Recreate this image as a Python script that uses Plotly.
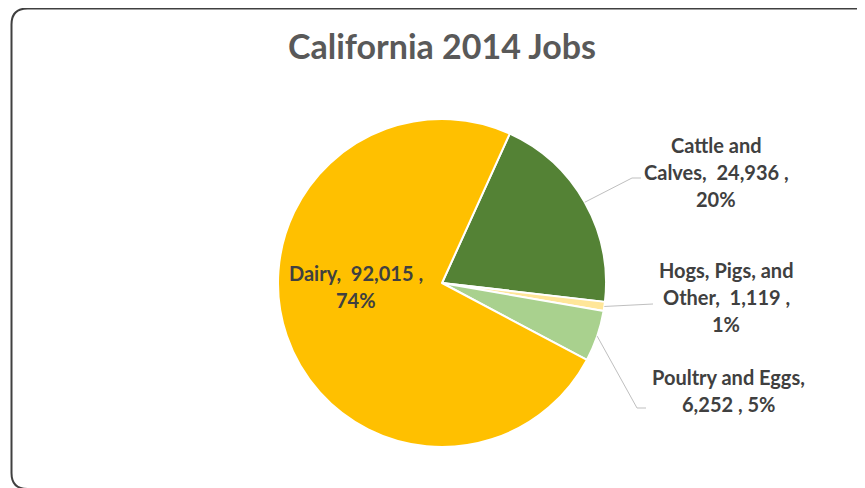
import numpy as np
import plotly.graph_objects as go

# data
labels = ["Cattle and Calves", "Hogs, Pigs, and Other", "Poultry and Eggs", "Dairy"]
values = [24936, 1119, 6252, 92015]
colors = ["#548235", "#FFE699", "#A9D18E", "#FFC000"]

W, H = 865, 488
OFF = 8  # page body margin
CX, CY, R = 442, 283, 164
START = 24.4  # degrees clockwise from 12 o'clock


def px(x, y):
    return (x - OFF) / W, 1 - (y - OFF) / H


dx0, dy0 = px(CX - R, CY + R)
dx1, dy1 = px(CX + R, CY - R)

fig = go.Figure(go.Pie(
    labels=labels,
    values=values,
    sort=False,
    direction="clockwise",
    rotation=START,
    marker=dict(colors=colors, line=dict(color="white", width=2)),
    textinfo="none",
    hoverinfo="label+value+percent",
    domain=dict(x=[dx0, dx1], y=[dy0, dy1]),
    showlegend=False,
))

total = sum(values)
pcts = [round(v / total * 100) for v in values]
txt = [f"{v:,}" for v in values]

label_lines = [
    ["Cattle and", f"Calves,  {txt[0]} ,", f"{pcts[0]}%"],
    ["Hogs, Pigs, and", f"Other,  {txt[1]} ,", f"{pcts[1]}%"],
    ["Poultry and Eggs,", f"{txt[2]} , {pcts[2]}%"],
    ["Dairy,  " + txt[3] + " ,", f"{pcts[3]}%"],
]
label_pos = [(716, 145), (726, 270), (728, 377), (356, 273)]
line_h = 27

font = dict(family="Lato, 'Open Sans', sans-serif", size=20, color="#404040")
annotations = []
for lines, (lx, ly) in zip(label_lines, label_pos):
    for i, t in enumerate(lines):
        x, y = px(lx, ly + i * line_h)
        annotations.append(dict(x=x, y=y, xref="paper", yref="paper", text=f"<b>{t}</b>",
                                showarrow=False, font=font, xanchor="center", yanchor="middle"))

# leader lines from slice midpoints
elbows = [[(632, 178), (641, 178)], [(653, 304)], [(637, 408), (646, 408)]]
shapes = []
cum = np.cumsum([0] + values)
for k, pts in enumerate(elbows):
    mid = np.radians(START + (cum[k] + cum[k + 1]) / 2 / total * 360)
    sx, sy = CX + R * np.sin(mid), CY - R * np.cos(mid)
    path = "M {},{}".format(*px(sx, sy))
    for p in pts:
        path += " L {},{}".format(*px(*p))
    shapes.append(dict(type="path", xref="paper", yref="paper", path=path,
                       line=dict(color="#BFBFBF", width=1)))

# rounded chart border
x0, y0, x1, y1, rr = 11.5, 8.5, 875, 489, 16
pts = [
    ("M", (x0 + rr, y0)), ("L", (x1 - rr, y0)), ("Q", (x1, y0), (x1, y0 + rr)),
    ("L", (x1, y1 - rr)), ("Q", (x1, y1), (x1 - rr, y1)), ("L", (x0 + rr, y1)),
    ("Q", (x0, y1), (x0, y1 - rr)), ("L", (x0, y0 + rr)), ("Q", (x0, y0), (x0 + rr, y0)),
]
border = ""
for cmd, *ps in pts:
    border += cmd + " " + " ".join("{},{}".format(*px(*p)) for p in ps) + " "
shapes.append(dict(type="path", xref="paper", yref="paper", path=border + "Z",
                   line=dict(color="#404040", width=2)))

tx, ty = px(442, 47)
fig.update_layout(
    width=W, height=H,
    margin=dict(l=0, r=0, t=0, b=0),
    paper_bgcolor="white",
    title=dict(text="<b>California 2014 Jobs</b>", x=tx, y=ty,
               xanchor="center", yanchor="middle",
               font=dict(family="Lato, 'Open Sans', sans-serif", size=34, color="#595959")),
    annotations=annotations,
    shapes=shapes,
)

fig.write_html("out.html")
